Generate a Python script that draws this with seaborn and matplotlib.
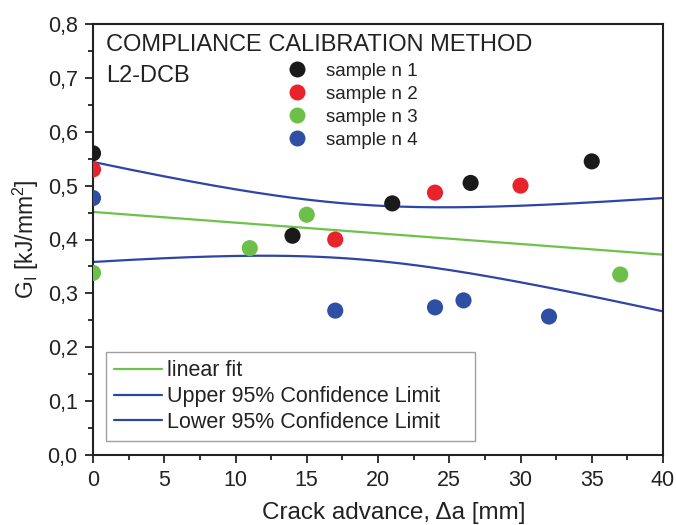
import numpy as np
import pandas as pd
import seaborn as sns
import matplotlib.pyplot as plt
from matplotlib.lines import Line2D
from matplotlib.ticker import MultipleLocator, FuncFormatter

# values
s1_x = [0, 14, 21, 26.5, 35]
s1_y = [0.560, 0.407, 0.467, 0.505, 0.545]
s2_x = [0, 17, 24, 30]
s2_y = [0.530, 0.400, 0.487, 0.500]
s3_x = [0, 11, 15, 37]
s3_y = [0.338, 0.384, 0.446, 0.335]
s4_x = [0, 17, 24, 26, 32]
s4_y = [0.477, 0.268, 0.274, 0.287, 0.257]

labels = ["sample n 1", "sample n 2", "sample n 3", "sample n 4"]
colors = ["#1a1a1a", "#e8232b", "#6cc04a", "#2f4fa5"]

frames = []
for lab, xs, ys in zip(labels, [s1_x, s2_x, s3_x, s4_x], [s1_y, s2_y, s3_y, s4_y]):
    frames.append(pd.DataFrame({"x": xs, "y": ys, "sample": lab}))
df = pd.concat(frames, ignore_index=True)

# linear fit and 95% confidence limits of the mean, from all points
x = df["x"].to_numpy()
y = df["y"].to_numpy()
n = len(x)
b, a = np.polyfit(x, y, 1)
resid = y - (a + b * x)
s = np.sqrt(np.sum(resid ** 2) / (n - 2))
sxx = np.sum((x - x.mean()) ** 2)
t = 2.1199  # t(0.975, 16)
xf = np.linspace(0, 40, 200)
yf = a + b * xf
half = t * s * np.sqrt(1 / n + (xf - x.mean()) ** 2 / sxx)
fit = pd.DataFrame({"x": xf, "fit": yf, "upper": yf + half, "lower": yf - half})

sns.set_style("ticks")
plt.rcParams["font.family"] = ["Liberation Sans", "DejaVu Sans"]
plt.rcParams["mathtext.fontset"] = "custom"
plt.rcParams["mathtext.rm"] = "Liberation Sans"
plt.rcParams["mathtext.it"] = "Liberation Sans"

dark = "#222222"
green = "#6cc24a"
blue = "#2e44a6"

fig = plt.figure(figsize=(6.76, 5.25), dpi=100)
ax = fig.add_axes([93 / 676, 70 / 525, 570 / 676, 431 / 525])

sns.lineplot(data=fit, x="x", y="fit", ax=ax, color=green, lw=1.6)
sns.lineplot(data=fit, x="x", y="upper", ax=ax, color=blue, lw=1.6)
sns.lineplot(data=fit, x="x", y="lower", ax=ax, color=blue, lw=1.6)

sns.scatterplot(data=df, x="x", y="y", hue="sample", palette=colors, s=135,
                edgecolor="none", ax=ax, legend=False, zorder=3)

ax.set_xlim(0, 40)
ax.set_ylim(0, 0.8)
ax.xaxis.set_major_locator(MultipleLocator(5))
ax.xaxis.set_minor_locator(MultipleLocator(2.5))
ax.yaxis.set_major_locator(MultipleLocator(0.1))
ax.yaxis.set_minor_locator(MultipleLocator(0.05))
ax.yaxis.set_major_formatter(FuncFormatter(lambda v, p: f"{v:.1f}".replace(".", ",")))
ax.tick_params(which="major", direction="out", length=6, width=1.3, labelsize=15.5,
               colors=dark, pad=5)
ax.tick_params(which="minor", direction="out", length=3.5, width=1.3, colors=dark)
for sp in ax.spines.values():
    sp.set_linewidth(1.5)
    sp.set_color(dark)

ax.set_xlabel("Crack advance, \u0394a [mm]", fontsize=17.5, color=dark)
ax.xaxis.set_label_coords(0.528, -0.11)
ax.set_ylabel(r"G$_\mathregular{I}$ [kJ/mm$^\mathregular{2}$]", fontsize=16.5, color=dark, labelpad=5)

ax.text(0.023, 0.937, "COMPLIANCE CALIBRATION METHOD", transform=ax.transAxes,
        fontsize=17, va="baseline", color=dark)
ax.text(0.023, 0.865, "L2-DCB", transform=ax.transAxes, fontsize=17, va="baseline", color=dark)

pts = [Line2D([], [], ls="none", marker="o", ms=11.5, color=c, mec="none") for c in colors]
leg1 = ax.legend(pts, labels, loc="upper left", bbox_to_anchor=(0.329, 0.924), frameon=False,
                 fontsize=13.5, handletextpad=0.9, labelspacing=0.32, handlelength=1.2,
                 borderaxespad=0, borderpad=0.3)
for txt in leg1.get_texts():
    txt.set_color(dark)
ax.add_artist(leg1)

lines = [Line2D([], [], color=green, lw=1.6),
         Line2D([], [], color=blue, lw=1.6),
         Line2D([], [], color=blue, lw=1.6)]
leg2 = ax.legend(lines, ["linear fit", "Upper 95% Confidence Limit", "Lower 95% Confidence Limit"],
                 loc="lower left", bbox_to_anchor=(0.0228, 0.0325, 0.647, 0.204), mode="expand",
                 borderaxespad=0, fontsize=15.5, frameon=True, fancybox=False,
                 edgecolor="#888888", handlelength=2.2, handletextpad=0.25,
                 labelspacing=0.22, borderpad=0.38)
leg2.get_frame().set_linewidth(1.0)
for txt in leg2.get_texts():
    txt.set_color(dark)

fig.savefig("out.png", dpi=100)
